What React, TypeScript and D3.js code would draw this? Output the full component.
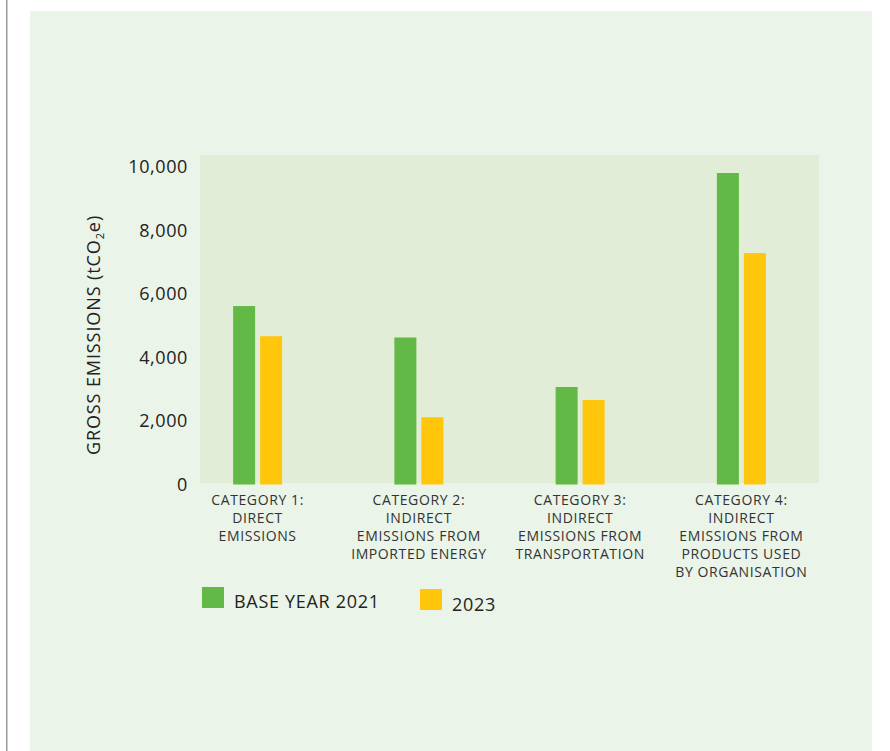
import React from "react";
import * as d3 from "d3";

const categories = ["cat1", "cat2", "cat3", "cat4"];
const categoryLabels: string[][] = [
  ["CATEGORY 1:", "DIRECT", "EMISSIONS"],
  ["CATEGORY 2:", "INDIRECT", "EMISSIONS FROM", "IMPORTED ENERGY"],
  ["CATEGORY 3:", "INDIRECT", "EMISSIONS FROM", "TRANSPORTATION"],
  ["CATEGORY 4:", "INDIRECT", "EMISSIONS FROM", "PRODUCTS USED", "BY ORGANISATION"],
];
const seriesNames = ["BASE YEAR 2021", "2023"];
const base2021 = [5620, 4630, 3070, 9810];
const y2023 = [4670, 2120, 2660, 7290];
const yTicks = [0, 2000, 4000, 6000, 8000, 10000];

const W = 890;
const H = 751;
const FONT = "'Open Sans', 'Noto Sans', sans-serif";
const GREEN = "#62B946";
const YELLOW = "#FFC60B";

export default function App() {
  const plotLeft = 200;
  const plotRight = 819;
  const plotTop = 155;
  const plotBottom = 483;

  const y = d3.scaleLinear().domain([0, 10000]).range([484.5, 167]);
  const x = d3.scaleBand<string>().domain(categories).range([177, 822]).paddingInner(0).paddingOuter(0);
  const barW = 22;
  const gap = 5;
  const series = [base2021, y2023];
  const colors = [GREEN, YELLOW];
  const fmt = d3.format(",");

  return (
    <svg
      width={W}
      height={H}
      style={{ position: "absolute", left: 0, top: 0, display: "block" }}
      fontFamily={FONT}
    >
      <rect x={0} y={0} width={W} height={H} fill="#ffffff" />
      <rect x={6} y={0} width={1.5} height={H} fill="#9a9a9a" />
      <rect x={30} y={11} width={842} height={H - 11} fill="#EAF4E8" />
      <rect x={plotLeft} y={plotTop} width={plotRight - plotLeft} height={plotBottom - plotTop} fill="#E1EDD6" />

      {series.map((vals, si) =>
        categories.map((c, i) => {
          const cx = (x(c) as number) + x.bandwidth() / 2;
          const bx = si === 0 ? cx - gap / 2 - barW : cx + gap / 2;
          return (
            <rect
              key={`${si}-${c}`}
              x={bx}
              y={y(vals[i])}
              width={barW}
              height={y(0) - y(vals[i])}
              fill={colors[si]}
            />
          );
        })
      )}

      {yTicks.map((t) => (
        <text
          key={t}
          x={188}
          y={y(t)}
          dy="0.35em"
          textAnchor="end"
          fontSize={18}
          letterSpacing={0.6}
          fill="#222"
        >
          {fmt(t)}
        </text>
      ))}

      <text
        transform={`translate(100, 335) rotate(-90)`}
        textAnchor="middle"
        fontSize={18}
        letterSpacing={0.9}
        fill="#222"
      >
        GROSS EMISSIONS (tCO
        <tspan fontSize={11} dy={4}>2</tspan>
        <tspan dy={-4}>e)</tspan>
      </text>

      {categories.map((c, i) => {
        const cx = (x(c) as number) + x.bandwidth() / 2;
        return (
          <text key={c} textAnchor="middle" fontSize={14} letterSpacing={0.6} fill="#333">
            {categoryLabels[i].map((line, li) => (
              <tspan key={li} x={cx} y={505 + li * 18}>
                {line}
              </tspan>
            ))}
          </text>
        );
      })}

      <rect x={202} y={587} width={22} height={21} fill={GREEN} />
      <text x={234} y={608} fontSize={18} letterSpacing={0.7} fill="#222">{seriesNames[0]}</text>
      <rect x={420} y={589} width={22} height={21} fill={YELLOW} />
      <text x={452} y={611} fontSize={18} letterSpacing={0.7} fill="#222">{seriesNames[1]}</text>
    </svg>
  );
}
